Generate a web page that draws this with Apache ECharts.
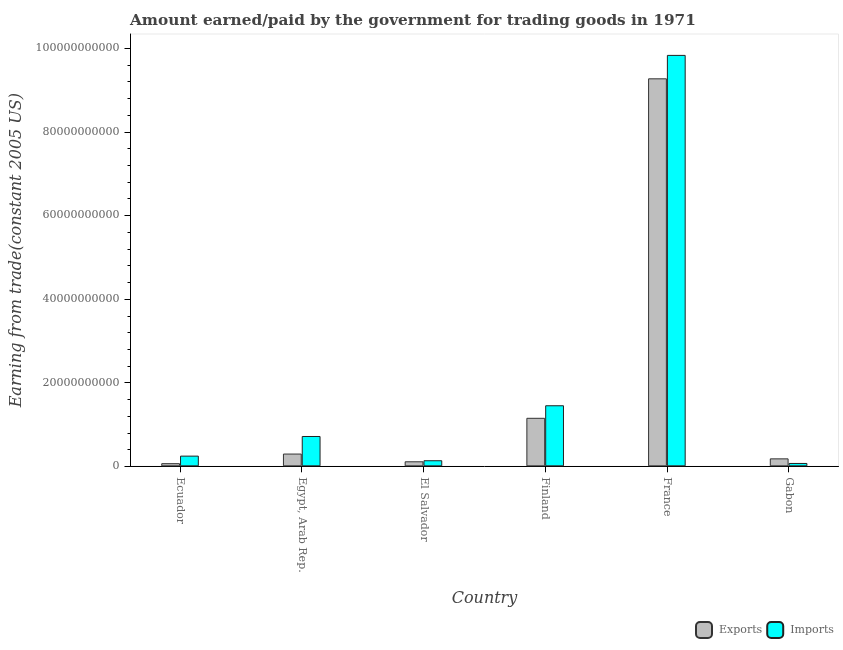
<!DOCTYPE html>
<html><head><meta charset="utf-8">
<style>html,body{margin:0;padding:0;background:#fff}#c{width:843px;height:650px}</style>
<script src="https://cdn.jsdelivr.net/npm/echarts@6/dist/echarts.min.js"></script>
</head><body><div id="c"></div>
<script>
const categories = ["Ecuador","Egypt, Arab Rep.","El Salvador","Finland","France","Gabon"];
const exportsValues = [0.75e9,3.05e9,1.2e9,11.6e9,92.8e9,1.9e9];
const importsValues = [2.55e9,7.25e9,1.45e9,14.6e9,98.4e9,0.8e9];
const majorTicks = [0,20e9,40e9,60e9,80e9,100e9];
const minorTicks = [];
for (let v = 0; v <= 100e9; v += 4e9) minorTicks.push(v);
const positions = categories.map((_, i) => i);
const font = "DejaVu Serif";
const chart = echarts.init(document.getElementById('c'), null, {renderer:'canvas'});
const xPair = (arr) => arr.map((v,i) => [i,v]);
chart.setOption({
  animation:false,
  backgroundColor:'#fff',
  title:{text:"Amount earned/paid by the government for trading goods in 1971",left:125,top:9,
    textStyle:{fontFamily:font,fontWeight:'bold',fontSize:15.3,color:'#444'}},
  legend:{left:690,top:616,width:150,itemWidth:16,itemHeight:16,itemGap:4,
    data:["Exports","Imports"],
    textStyle:{fontFamily:font,fontSize:11,color:'#666',padding:[0,0,0,2]}},
  grid:{left:130.5,right:4.5,top:34,bottom:183.7,outerBoundsMode:'none',show:true,borderColor:'#e9e9e9',borderWidth:1,backgroundColor:'#fff'},
  xAxis:{type:'value',min:-0.407,max:5.41,containShape:false,
    name:'Country',nameLocation:'middle',nameGap:125,
    nameTextStyle:{fontFamily:font,fontStyle:'italic',fontSize:16,color:'#444'},
    splitLine:{show:false},
    axisLine:{show:true,onZero:false,lineStyle:{color:'#000',width:1}},
    axisTick:{show:true,customValues:positions,length:6,lineStyle:{color:'#000'}},
    axisLabel:{show:true,customValues:positions,rotate:-90,margin:11,align:'left',verticalAlign:'middle',
      fontFamily:font,fontSize:11,color:'#666',
      formatter:(v)=>categories[Math.round(v)]}},
  yAxis:[
    {type:'value',min:0,max:103.4e9,
     name:'Earning from trade(constant 2005 US)',nameLocation:'middle',nameGap:104,nameRotate:90,
     nameTextStyle:{fontFamily:font,fontStyle:'italic',fontSize:16,color:'#444'},
     splitLine:{show:false},
     axisLine:{show:true,onZero:false,lineStyle:{color:'#000',width:1}},
     axisTick:{show:true,customValues:minorTicks,length:3,lineStyle:{color:'#000'}},
     axisLabel:{show:true,customValues:majorTicks,margin:11,fontFamily:font,fontSize:11,color:'#666',
       formatter:(v)=>String(v)}},
    {type:'value',min:0,max:103.4e9,position:'left',
     splitLine:{show:false},
     axisLine:{show:false,onZero:false},
     axisTick:{show:true,customValues:majorTicks,length:6,lineStyle:{color:'#000'}},
     axisLabel:{show:false}}
  ],
  series:[
    {name:'Exports',type:'bar',barWidth:18.8,barGap:0,data:xPair(exportsValues),
     itemStyle:{color:'#bebebe',borderColor:'#333',borderWidth:1}},
    {name:'Imports',type:'bar',barWidth:18.8,barGap:0,data:xPair(importsValues),
     itemStyle:{color:'#00ffff',borderColor:'#222',borderWidth:1}}
  ]
});
</script></body></html>
